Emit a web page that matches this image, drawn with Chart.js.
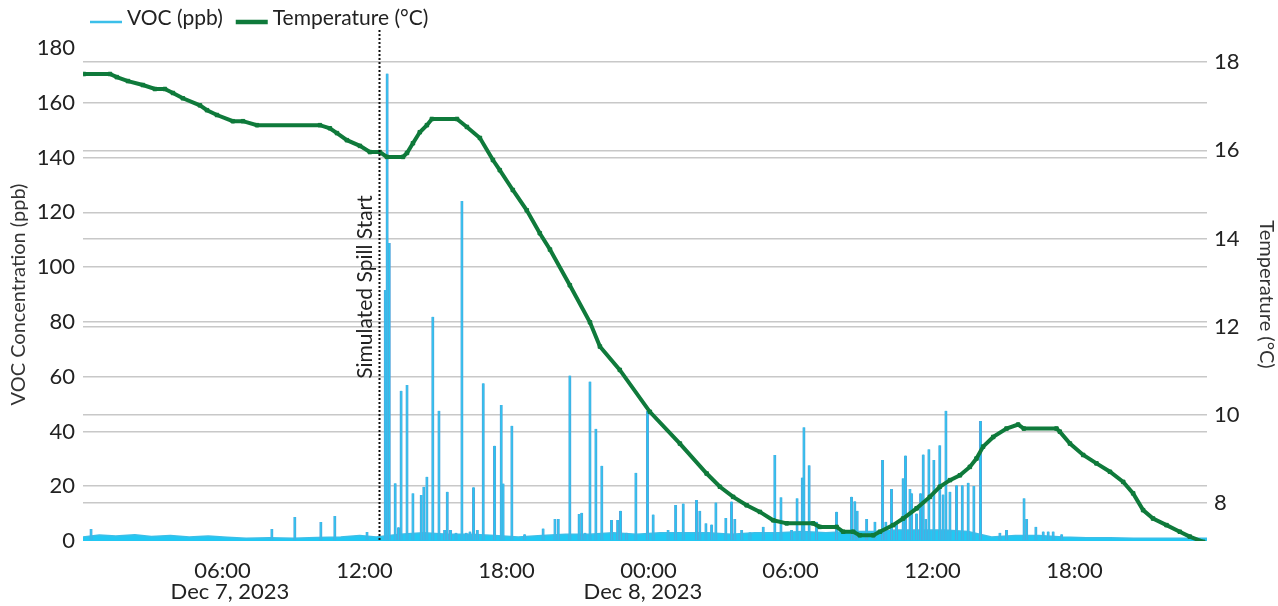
<!DOCTYPE html>
<html>
<head>
<meta charset="utf-8">
<script src="https://cdn.jsdelivr.net/npm/chart.js@4.4.0/dist/chart.umd.min.js"></script>
<style>
  html, body { margin: 0; padding: 0; background: #fff; }
  #wrap { width: 1278px; height: 606px; position: relative; }
</style>
</head>
<body>
<div id="wrap"><canvas id="chart"></canvas></div>
<script>
// time axis = hours since Dec 7, 2023 00:00
const xTickHours = [6, 12, 18, 24, 30, 36, 42];
const dateLabels = ["Dec 7, 2023", "Dec 8, 2023"];
const dateLabelHours = [6.32, 23.77];
const spillHour = 12.63;
const spillLabel = "Simulated Spill Start";

const vocTicks = [0, 20, 40, 60, 80, 100, 120, 140, 160, 180];
const tempTicks = [8, 10, 12, 14, 16, 18];

// temperature readings (°C)
const tempHours = [
  0.15, 1.25, 1.54, 2.01, 2.64, 3.15, 3.57, 3.91, 4.33, 5.05, 5.35, 5.77, 6.44, 6.87,
  7.46, 10.12, 10.54, 10.84, 11.26, 11.81, 12.23, 12.65, 12.95, 13.63, 13.80, 14.05,
  14.34, 14.64, 14.85, 15.91, 16.33, 16.88, 17.43, 17.72, 18.27, 18.86, 19.41, 19.84,
  20.68, 21.53, 21.95, 22.79, 24.06, 25.33, 26.46, 27.02, 27.58, 28.15, 28.71, 29.27,
  29.84, 30.96, 31.24, 31.95, 32.23, 32.65, 32.93, 33.50, 33.78, 34.34, 34.76, 35.33,
  35.89, 36.31, 36.74, 37.16, 37.58, 37.86, 38.14, 38.57, 39.13, 39.62, 39.86, 41.24,
  41.38, 41.81, 42.37, 42.93, 43.50, 44.06, 44.48, 44.90, 45.32, 45.89, 46.45, 46.87, 47.44
];
const tempC = [
  17.73, 17.73, 17.66, 17.57, 17.48, 17.39, 17.39, 17.30, 17.18, 17.02, 16.91, 16.80, 16.66, 16.66,
  16.57, 16.57, 16.50, 16.39, 16.23, 16.10, 15.96, 15.96, 15.85, 15.85, 15.94, 16.16,
  16.41, 16.57, 16.71, 16.71, 16.53, 16.28, 15.78, 15.55, 15.10, 14.64, 14.12, 13.75,
  12.94, 12.10, 11.55, 11.02, 10.07, 9.35, 8.67, 8.37, 8.14, 7.95, 7.80, 7.61,
  7.54, 7.54, 7.46, 7.46, 7.35, 7.35, 7.27, 7.27, 7.35, 7.50, 7.65, 7.88,
  8.14, 8.37, 8.52, 8.63, 8.82, 9.01, 9.28, 9.50, 9.69, 9.78, 9.69, 9.69,
  9.62, 9.35, 9.09, 8.90, 8.71, 8.48, 8.22, 7.84, 7.65, 7.50, 7.35, 7.24, 7.12
];

// VOC background level (ppb)
const vocBaseHours = [
  0.11, 0.8, 1.5, 2.3, 3.0, 3.8, 4.6, 5.4, 6.2, 7.0, 8.0, 9.0, 10.0, 11.0, 11.8, 12.5,
  13.5, 14.5, 15.5, 16.5, 17.5, 18.5, 19.5, 20.5, 21.5, 22.5, 23.5, 24.5, 25.5, 26.5,
  27.5, 28.5, 29.5, 30.5, 31.5, 32.5, 33.5, 34.5, 35.5, 36.5, 37.5, 38.5, 39.5, 40.5,
  41.5, 42.5, 43.5, 44.5, 45.5, 46.5, 47.6
];
const vocBasePpb = [
  1.5, 2.2, 1.8, 2.3, 1.6, 2.0, 1.5, 1.8, 1.4, 1.0, 1.2, 1.0, 1.3, 1.5, 2.0, 1.5,
  2.5, 3.0, 2.5, 2.5, 2.0, 1.5, 2.0, 2.5, 2.5, 3.0, 2.5, 3.0, 3.0, 3.0,
  2.5, 3.0, 3.0, 3.5, 3.0, 3.5, 3.5, 4.0, 4.0, 4.0, 3.5, 1.5, 2.0, 2.0,
  1.5, 1.2, 1.2, 1.0, 1.0, 1.0, 1.0
];

// VOC peak readings (ppb)
const vocPeakHours = [
  0.45, 8.09, 9.06, 10.16, 10.75, 12.11,
  12.88, 12.96, 13.05, 13.30, 13.44, 13.55, 13.80, 14.05, 14.40, 14.51, 14.64, 14.89,
  15.15, 15.39, 15.50, 15.64, 15.87, 16.12, 16.30, 16.46, 16.61, 16.77, 17.02, 17.50,
  17.78, 17.86, 18.23, 18.77, 19.55, 20.05, 20.19, 20.68, 21.07, 21.18, 21.32, 21.53,
  21.78, 22.03, 22.44, 22.70, 22.82, 23.08, 23.47, 23.96, 24.20, 24.83, 25.15, 25.47,
  26.03, 26.17, 26.43, 26.67, 26.85, 27.27, 27.51, 27.65, 27.94, 28.29, 28.85, 29.34,
  29.60, 30.05, 30.28, 30.50, 30.57, 30.79, 31.10, 31.95, 32.58, 32.72, 32.82, 33.22,
  33.57, 33.89, 34.03, 34.27, 34.48, 34.76, 34.86, 35.05, 35.12, 35.33, 35.50, 35.61,
  35.72, 35.85, 36.06, 36.31, 36.45, 36.57, 36.74, 37.02, 37.26, 37.51, 37.75, 38.03,
  38.85, 39.13, 39.87, 39.98, 40.37, 40.68, 40.89, 41.10, 41.46
];
const vocPeakPpb = [
  4.4, 4.4, 8.8, 6.9, 9.1, 3.3,
  91.6, 170.7, 108.8, 21.1, 5.0, 54.9, 57.0, 17.4, 16.8, 19.8, 23.5, 81.9,
  47.6, 4.0, 18.0, 4.0, 3.0, 124.1, 3.0, 3.5, 19.6, 4.0, 57.6, 34.8,
  49.7, 21.0, 42.1, 2.5, 4.6, 8.0, 8.0, 60.4, 9.9, 10.3, 3.0, 58.2,
  41.0, 27.5, 7.7, 7.7, 11.0, 3.0, 24.9, 47.5, 9.7, 4.0, 13.1, 13.7,
  15.0, 11.0, 6.5, 6.0, 14.1, 8.4, 14.4, 8.0, 4.0, 3.2, 5.2, 31.4,
  16.0, 4.0, 15.6, 23.2, 41.5, 27.7, 7.0, 10.7, 16.2, 14.5, 11.0, 8.0,
  7.0, 29.6, 7.0, 19.0, 7.0, 22.9, 31.2, 19.0, 17.4, 10.0, 17.4, 31.6,
  8.0, 33.5, 29.6, 35.0, 17.0, 47.6, 18.0, 20.4, 20.4, 21.3, 20.1, 43.8,
  3.0, 4.0, 15.6, 8.0, 5.2, 3.5, 3.5, 3.5, 2.5
];

const FONT = "Lato";
const vocColor = "#22c8f3";
const vocEdge = "#55a6dc";
const tempColor = "#0f7a3b";

const pad2 = n => String(n).padStart(2, "0");

const extras = {
  id: "extras",
  afterDraw(chart) {
    const { ctx, chartArea, scales } = chart;
    const x = scales.x;
    ctx.save();

    // spill start marker
    const sx = Math.round(x.getPixelForValue(spillHour)) + 0.5;
    ctx.strokeStyle = "#111";
    ctx.lineWidth = 2;
    ctx.setLineDash([2, 2]);
    ctx.beginPath();
    ctx.moveTo(sx, 30);
    ctx.lineTo(sx, chartArea.bottom);
    ctx.stroke();
    ctx.setLineDash([]);

    ctx.fillStyle = "#222";
    ctx.font = `21px ${FONT}`;
    ctx.textAlign = "center";
    ctx.textBaseline = "middle";
    ctx.save();
    ctx.translate(sx - 14, 287);
    ctx.rotate(-Math.PI / 2);
    ctx.fillText(spillLabel, 0, 0);
    ctx.restore();

    // date row under the time ticks
    ctx.font = `22px ${FONT}`;
    dateLabels.forEach((t, i) => {
      ctx.fillText(t, x.getPixelForValue(dateLabelHours[i]), 592);
    });

    // legend
    ctx.font = `21px ${FONT}`;
    ctx.textAlign = "left";
    let lx = 90;
    chart.data.datasets
      .filter(ds => ds.legendPos !== undefined)
      .sort((a, b) => a.legendPos - b.legendPos)
      .forEach(ds => {
        ctx.strokeStyle = ds.borderColor;
        ctx.lineWidth = ds.legendWidth;
        ctx.beginPath();
        ctx.moveTo(lx, 22);
        ctx.lineTo(lx + 32, 22);
        ctx.stroke();
        ctx.fillStyle = "#222";
        ctx.fillText(ds.label, lx + 37, 18);
        lx += 37 + ctx.measureText(ds.label).width + 13;
      });
    ctx.restore();
  }
};

new Chart(document.getElementById("chart"), {
  type: "line",
  data: {
    datasets: [
      {
        label: "Temperature (°C)",
        legendPos: 1,
        legendWidth: 4.5,
        data: tempHours.map((h, i) => ({ x: h, y: tempC[i] })),
        yAxisID: "yTemp",
        borderColor: tempColor,
        backgroundColor: tempColor,
        borderWidth: 4,
        pointStyle: "rect",
        pointRadius: 2.5,
        pointBorderWidth: 1,
        pointBorderColor: tempColor,
        tension: 0,
        order: 0
      },
      {
        label: "VOC (ppb)",
        legendPos: 0,
        legendWidth: 2.5,
        data: vocBaseHours.map((h, i) => ({ x: h, y: vocBasePpb[i] })),
        yAxisID: "yVoc",
        borderColor: "#3bbfe9",
        backgroundColor: vocColor,
        borderWidth: 1.5,
        pointRadius: 0,
        fill: "origin",
        tension: 0,
        order: 2
      },
      {
        type: "bar",
        label: "VOC peaks",
        data: vocPeakHours.map((h, i) => ({ x: h, y: vocPeakPpb[i] })),
        yAxisID: "yVoc",
        backgroundColor: vocColor,
        borderColor: vocEdge,
        borderWidth: { left: 1, right: 1, top: 0, bottom: 0 },
        borderSkipped: false,
        barThickness: 2.5,
        order: 1
      }
    ]
  },
  options: {
    responsive: true,
    maintainAspectRatio: false,
    devicePixelRatio: 1,
    animation: false,
    layout: { padding: { top: 48, left: 0, right: 0, bottom: 0 } },
    plugins: {
      legend: { display: false },
      tooltip: { enabled: false }
    },
    scales: {
      x: {
        type: "linear",
        offset: false,
        min: 0.11,
        max: 47.6,
        grid: { display: false, offset: false },
        border: { display: false },
        afterBuildTicks: s => { s.ticks = xTickHours.map(v => ({ value: v })); },
        afterFit: s => { s.height = 65; },
        ticks: {
          padding: 9,
          maxRotation: 0,
          color: "#222",
          font: { family: FONT, size: 22 },
          callback: v => pad2(v % 24) + ":00"
        }
      },
      yVoc: {
        position: "left",
        min: 0,
        max: 180,
        afterBuildTicks: s => { s.ticks = vocTicks.map(v => ({ value: v })); },
        afterFit: s => { s.width = 83; },
        border: { display: false },
        grid: {
          drawTicks: false,
          lineWidth: 1.5,
          color: c => (c.tick.value === 180 || c.tick.value === 0) ? "rgba(0,0,0,0)" : "#c8c8c8"
        },
        ticks: { padding: 8, color: "#222", font: { family: FONT, size: 22 } },
        title: {
          display: true,
          text: "VOC Concentration (ppb)",
          color: "#333",
          padding: { top: 7, bottom: 0 },
          font: { family: FONT, size: 20 }
        }
      },
      yTemp: {
        position: "right",
        min: 7.14,
        max: 18.32,
        afterBuildTicks: s => { s.ticks = tempTicks.map(v => ({ value: v })); },
        afterFit: s => { s.width = 71; },
        border: { display: false },
        grid: { drawTicks: false, lineWidth: 1.5, color: "#c8c8c8" },
        ticks: { padding: 7, color: "#222", font: { family: FONT, size: 22 } },
        title: {
          display: true,
          text: "Temperature (°C)",
          color: "#333",
          padding: { top: 0, bottom: 0 },
          font: { family: FONT, size: 20 }
        }
      }
    }
  },
  plugins: [extras]
});
</script>
</body>
</html>
